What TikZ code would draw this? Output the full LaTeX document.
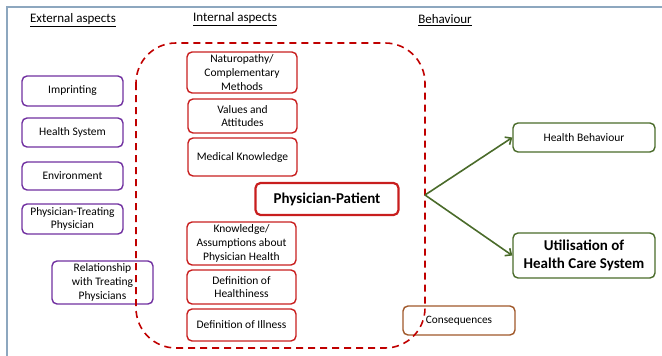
\documentclass[tikz,border=0pt]{standalone}
\usepackage{fontspec}
\setmainfont{Carlito}
\usetikzlibrary{arrows.meta}
\definecolor{framec}{HTML}{8DA7BF}
\definecolor{purp}{HTML}{7030A0}
\definecolor{redc}{HTML}{C81E1E}
\definecolor{dredc}{HTML}{C00000}
\definecolor{greenc}{HTML}{4A6B2A}
\definecolor{brownc}{HTML}{A0582A}
\begin{document}
\begin{tikzpicture}[x=1pt,y=-1pt,
  box/.style={draw,rounded corners=5pt,line width=1.4pt,align=center,inner sep=1pt,
    font=\fontsize{11.5}{13.6}\selectfont},
  pbox/.style={box,draw=purp,minimum width=101pt},
  rbox/.style={box,draw=redc,minimum width=109pt},
  gbox/.style={box,draw=greenc,minimum width=142pt},
  head/.style={font=\fontsize{13}{15}\selectfont},
  garrow/.style={draw=greenc,line width=1.6pt,-{Straight Barb[length=5pt,width=9pt]}}
]
\useasboundingbox (0,0) rectangle (662,356);
\draw[framec,line width=1.2pt] (7,360) -- (7,7) -- (670,7);

\node[head] (ext) at (73,20) {\underline{External aspects}};
\node[head] (int) at (235,19) {\underline{Internal aspects}};
\node[head] (beh) at (445,20) {\underline{Behaviour}};

\node[pbox,minimum height=30pt] (imp) at (72.5,91) {Imprinting};
\node[pbox,minimum height=29pt] (hs) at (72.5,132.5) {Health System};
\node[pbox,minimum height=28pt] (env) at (72.5,176) {Environment};
\node[pbox,minimum height=30pt] (ptp) at (72.5,219) {Physician-Treating\\Physician};
\node[pbox,minimum height=43pt] (rel) at (102.5,282.5) {Relationship\\with Treating\\Physicians};

\node[rbox,minimum width=110pt,minimum height=41pt] (nat) at (242,72.5) {Naturopathy/\\Complementary\\Methods};
\node[rbox,minimum height=34pt] (val) at (242.5,116) {Values and\\Attitudes};
\node[rbox,minimum height=38pt] (med) at (242.5,157) {Medical Knowledge};
\node[box,draw=redc,line width=2.2pt,minimum width=143pt,minimum height=32pt,
  font=\fontsize{15}{17}\selectfont\bfseries] (pp) at (327,199) {Physician-Patient};
\node[rbox,minimum height=43pt] (kno) at (241.5,243.5) {Knowledge/\\Assumptions about\\Physician Health};
\node[rbox,minimum height=34pt] (defh) at (241.5,287) {Definition of\\Healthiness};
\node[rbox,minimum height=32pt] (defi) at (241.5,325) {Definition of Illness};

\node[gbox,minimum height=29pt,font=\fontsize{11.5}{13}\selectfont] (hb) at (584,137.5) {Health Behaviour};
\node[gbox,minimum height=45pt,font=\fontsize{15}{17.5}\selectfont\bfseries] (util) at (584,255.5) {Utilisation of\\Health Care System};
\node[box,draw=brownc,minimum width=112pt,minimum height=29pt,font=\fontsize{11.3}{13}\selectfont] (cons) at (459,320.5) {Consequences};

\draw[dredc,line width=1.6pt,dash pattern=on 7pt off 5pt,rounded corners=40pt]
  (136,43) rectangle (425,348);

\coordinate (src) at (425,195);
\draw[garrow] (src) -- (hb.west);
\draw[garrow] (src) -- (util.west);
\end{tikzpicture}
\end{document}
